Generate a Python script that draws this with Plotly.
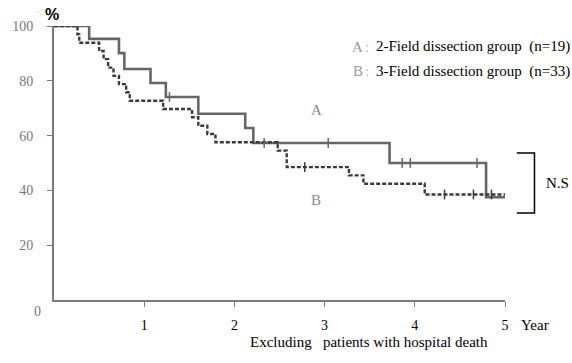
import plotly.graph_objects as go

# ---- data ----
a_years = [0, 0.39, 0.72, 0.78, 1.07, 1.24, 1.60, 2.12, 2.21, 3.72, 4.79, 5.0]
a_surv = [100, 95.3, 90.1, 84.3, 79.2, 74.1, 68.0, 62.8, 57.3, 50.0, 37.5, 37.5]
a_cens_years = [1.28, 2.33, 3.04, 3.86, 3.95, 4.69]
a_cens_surv = [74.1, 57.3, 57.3, 50.0, 50.0, 50.0]

b_years = [0, 0.26, 0.28, 0.50, 0.55, 0.60, 0.66, 0.72, 0.80, 0.84, 1.21, 1.53,
           1.60, 1.70, 1.79, 2.48, 2.58, 3.27, 3.43, 4.11, 5.0]
b_surv = [100, 97.0, 93.9, 90.9, 87.9, 84.8, 81.8, 78.8, 75.8, 72.7, 69.7, 66.7,
          63.6, 60.6, 57.6, 54.5, 48.5, 45.5, 42.4, 38.5, 38.5]
b_cens_years = [2.78, 4.33, 4.65, 4.85]
b_cens_surv = [48.5, 38.5, 38.5, 38.5]

x_ticks = [1, 2, 3, 4, 5]
y_ticks = [20, 40, 60, 80, 100]

# ---- layout geometry (pixels) ----
W, H = 572, 363
L, R, T, B = 46, 505, 26, 300


def px(x):
    return (x - L) / (R - L)


def py(y):
    return (B - y) / (B - T)


SERIF = "Liberation Serif, Times New Roman, serif"
A_COL = "#666666"
B_COL = "#3a3a3a"
AX_COL = "#7a7a7a"

fig = go.Figure()
fig.add_trace(go.Scatter(x=a_years, y=a_surv, mode="lines", line_shape="hv",
                         line=dict(color=A_COL, width=2.6), cliponaxis=False,
                         showlegend=False))
fig.add_trace(go.Scatter(x=b_years, y=b_surv, mode="lines", line_shape="hv",
                         line=dict(color=B_COL, width=2.4, dash="4px,2px"),
                         cliponaxis=False, showlegend=False))
fig.add_trace(go.Scatter(x=a_cens_years, y=a_cens_surv, mode="markers",
                         marker=dict(symbol="line-ns", size=7,
                                     line=dict(color=A_COL, width=1.5)),
                         cliponaxis=False, showlegend=False))
fig.add_trace(go.Scatter(x=b_cens_years, y=b_cens_surv, mode="markers",
                         marker=dict(symbol="line-ns", size=7,
                                     line=dict(color=B_COL, width=1.5)),
                         cliponaxis=False, showlegend=False))

fig.update_layout(
    width=W, height=H,
    margin=dict(l=L, r=W - R, t=T, b=H - B, pad=0),
    paper_bgcolor="white", plot_bgcolor="white",
    font=dict(family=SERIF, size=14, color="black"),
    xaxis=dict(range=[0, 5], tickvals=x_ticks, ticktext=[str(v) for v in x_ticks],
               showgrid=False, zeroline=False, showline=True, linecolor=AX_COL,
               linewidth=2, ticks="outside", ticklen=5, tickwidth=1.2,
               tickcolor=AX_COL, ticklabelstandoff=6,
               tickfont=dict(family=SERIF, size=14, color="black")),
    yaxis=dict(range=[0, 100], tickvals=y_ticks, ticktext=[str(v) for v in y_ticks],
               showgrid=False, zeroline=False, showline=True, linecolor=AX_COL,
               linewidth=2, ticks="outside", ticklen=5, tickwidth=1.2,
               tickcolor=AX_COL, ticklabelstandoff=11,
               tickfont=dict(family=SERIF, size=14, color="#777777")),
)

ann = []


def add_text(text, x, y, size=15, color="black", xanchor="left", family=SERIF, bold=False):
    ann.append(dict(text=("<b>%s</b>" % text) if bold else text,
                    x=px(x), y=py(y), xref="paper", yref="paper",
                    xanchor=xanchor, yanchor="middle", showarrow=False,
                    font=dict(family=family, size=size, color=color)))


add_text("%", 44, 14, size=16, family="Liberation Sans, Arial, sans-serif", bold=True, xanchor="center")
add_text("0", 29, 311, size=14, color="#777777", xanchor="center")
add_text("Year", 519, 325, size=15)
add_text("Excluding &nbsp; patients with hospital death", 367, 342, size=15, xanchor="center")
add_text("A", 355, 47, size=15, color="#9a9a9a", xanchor="center")
add_text(":", 365, 47, size=15, color="#bbbbbb", xanchor="center")
add_text("2-Field dissection group &nbsp;(n=19)", 372, 47, size=15)
add_text("B", 355, 71, size=15, color="#9a9a9a", xanchor="center")
add_text(":", 365, 71, size=15, color="#bbbbbb", xanchor="center")
add_text("3-Field dissection group &nbsp;(n=33)", 372, 71, size=15)
add_text("A", 313, 110, size=15, color="#8a8a8a", xanchor="center")
add_text("B", 313, 200, size=15, color="#8a8a8a", xanchor="center")
add_text("N.S", 545, 183, size=15)
fig.update_layout(annotations=ann)

fig.add_shape(type="path", xref="paper", yref="paper",
              path="M %f %f L %f %f L %f %f L %f %f" % (px(517), py(153), px(535), py(153),
                                                        px(535), py(213), px(517), py(213)),
              line=dict(color="black", width=1.5))

fig.write_html("out.html", config={"displayModeBar": False},
               post_script="document.body.style.margin='0px';")
